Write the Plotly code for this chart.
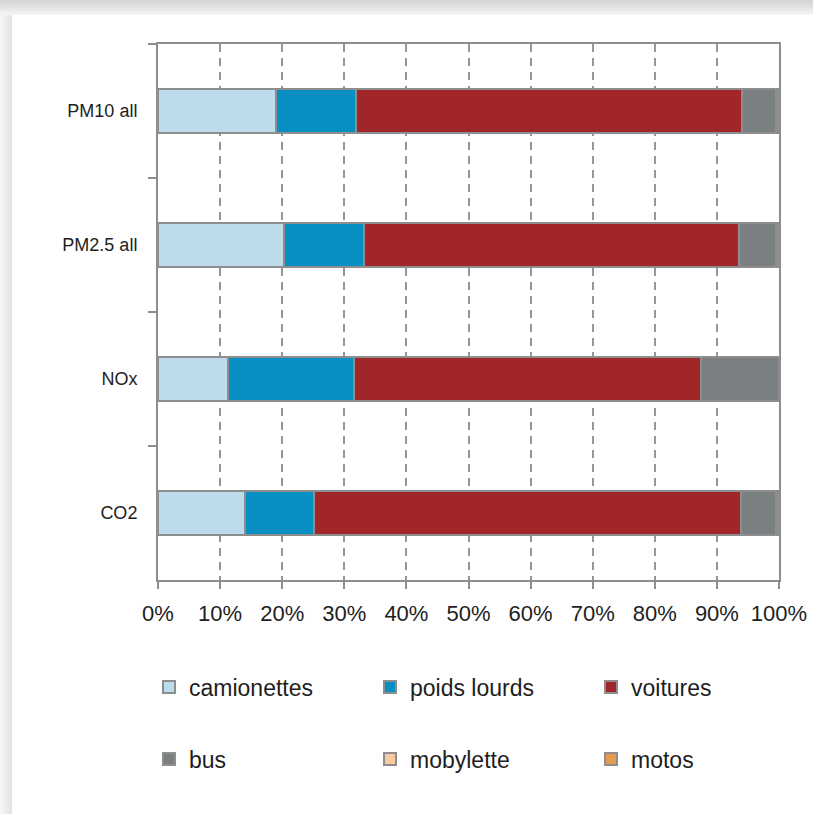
import plotly.graph_objects as go

# Emission shares (%) by vehicle type
categories = ["PM10 all", "PM2.5 all", "NOx", "CO2"]
camionettes = [19.0, 20.3, 11.3, 14.0]
poids_lourds = [12.9, 12.9, 20.2, 11.1]
voitures = [62.1, 60.3, 56.0, 68.8]
bus = [5.5, 6.0, 12.5, 5.6]
mobylette = [0.2, 0.2, 0.0, 0.2]
motos = [0.3, 0.3, 0.0, 0.3]
x_ticks = [0, 10, 20, 30, 40, 50, 60, 70, 80, 90, 100]
x_tick_labels = [f"{v}%" for v in x_ticks]

series = [
    ("camionettes", camionettes, "#bcdcec", "legend"),
    ("poids lourds", poids_lourds, "#068fc0", "legend"),
    ("voitures", voitures, "#a1262a", "legend"),
    ("bus", bus, "#7a7f82", "legend2"),
    ("mobylette", mobylette, "#f9caa0", "legend2"),
    ("motos", motos, "#e69a50", "legend2"),
]

W, H = 813, 814
L, R, T, B = 158, 34, 44, 234
PW, PH = W - L - R, H - T - B


def px_x(px):
    return (px - L) / PW


def px_y(py):
    return (H - B - py) / PH


fig = go.Figure()
for name, vals, color, leg in series:
    fig.add_trace(go.Bar(
        y=categories, x=vals, name=name, orientation="h",
        marker=dict(color=color, line=dict(color="#8e8e8e", width=2)),
        legend=leg,
    ))

# page shadow along the top and left edges of the card
shapes = []
for i in range(15):
    c = int(212 + i * 2.3)
    shapes.append(dict(type="rect", xref="paper", yref="paper", layer="below",
                       x0=px_x(0), x1=px_x(W), y0=px_y(i + 1), y1=px_y(i),
                       line=dict(width=0), fillcolor=f"rgb({c},{c},{c})"))
for i in range(12):
    c = int(246 - i * 1.6)
    shapes.append(dict(type="rect", xref="paper", yref="paper", layer="below",
                       x0=px_x(i), x1=px_x(i + 1), y0=px_y(H), y1=px_y(15),
                       line=dict(width=0), fillcolor=f"rgb({c},{c},{c})"))

family = "Liberation Sans, Arial, sans-serif"
font = dict(family=family, size=18, color="#1e1e1e")
legend_font = dict(family=family, size=23, color="#1e1e1e")

fig.update_layout(
    width=W, height=H,
    margin=dict(l=L, r=R, t=T, b=B, autoexpand=False),
    paper_bgcolor="white", plot_bgcolor="white",
    barmode="stack", bargap=0.67,
    font=font,
    shapes=shapes,
    legend=dict(orientation="h", x=px_x(149), y=px_y(687), xanchor="left", yanchor="middle",
                entrywidth=176, entrywidthmode="pixels", font=legend_font, traceorder="normal"),
    legend2=dict(orientation="h", x=px_x(149), y=px_y(759), xanchor="left", yanchor="middle",
                 entrywidth=176, entrywidthmode="pixels", font=legend_font, traceorder="normal"),
    xaxis=dict(
        range=[0, 100], tickmode="array", tickvals=x_ticks, ticktext=x_tick_labels,
        showgrid=True, gridcolor="#969696", gridwidth=1.6, griddash="8px,6px",
        showline=True, linecolor="#8e8e8e", linewidth=2, mirror=True,
        ticks="outside", ticklen=7, tickwidth=2, tickcolor="#8e8e8e",
        ticklabelstandoff=6, zeroline=False, automargin=False,
        tickfont=dict(family=family, size=22, color="#1e1e1e"),
    ),
    yaxis=dict(
        categoryorder="array", categoryarray=categories, autorange="reversed",
        showline=True, linecolor="#8e8e8e", linewidth=2, mirror=True,
        ticks="outside", ticklen=8, tickwidth=2, tickcolor="#8e8e8e",
        tickson="boundaries", ticklabelstandoff=15, showgrid=False, automargin=False,
        tickfont=dict(family=family, size=18, color="#1e1e1e"),
    ),
)

fig.write_html("out.html")
